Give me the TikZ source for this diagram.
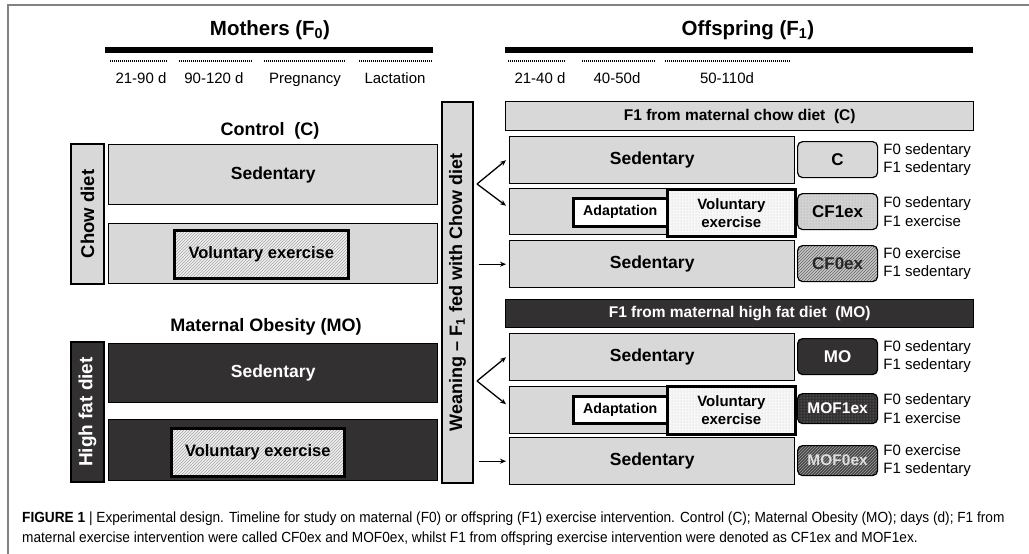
\documentclass[tikz,border=0pt]{standalone}
\usepackage{fontspec}
\setmainfont{Liberation Sans}
\newfontfamily\capfont[FakeStretch=0.93]{Liberation Sans}
\usetikzlibrary{arrows.meta,patterns}
\definecolor{lightg}{RGB}{216,216,216}
\definecolor{darkg}{RGB}{50,48,48}
\definecolor{framec}{RGB}{130,130,130}
\newcommand\setfs[2]{\fontsize{#1}{#2}\selectfont}

\begin{document}
\begin{tikzpicture}[x=1pt,y=-1pt,
  corners/.style n args={4}{anchor=north west, at={(#1,#2)},
    minimum width={#3-#1}, minimum height={#4-#2}},
  vcorners/.style n args={4}{anchor=center, rotate=90,
    at={({(#1+#3)/2},{(#2+#4)/2})},
    minimum width={#4-#2}, minimum height={#3-#1}},
  box/.style={draw, line width=1.4pt, inner sep=0pt, font=\setfs{17.5}{20}\bfseries},
  lbox/.style={box, fill=lightg},
  dbox/.style={box, fill=darkg, text=white},
  hatchbox/.style={draw, line width=2.6pt, inner sep=0pt,
    preaction={fill=gray!12}, pattern=north east lines, pattern color=gray!70,
    font=\setfs{16.5}{19}\bfseries},
  stipbox/.style={draw, line width=2.6pt, inner sep=0pt, align=center,
    preaction={fill=gray!6}, pattern=dots, pattern color=gray!45,
    font=\setfs{15}{18}\bfseries},
  adapt/.style={draw, line width=2.6pt, fill=white, inner sep=0pt,
    font=\setfs{14.2}{17}\bfseries},
  tag/.style={draw, line width=1.2pt, rounded corners=5pt, inner sep=0pt,
    font=\setfs{17}{20}\bfseries},
  side/.style={anchor=west, inner sep=0pt, align=left, xshift=5pt,
    font=\setfs{15}{18.5}},
  period/.style={inner sep=0pt, anchor=base, font=\setfs{15}{18}},
  title/.style={inner sep=0pt, font=\setfs{20.5}{24}\bfseries},
  group/.style={inner sep=0pt, font=\setfs{18}{21}\bfseries},
  rule/.style={line width=6pt},
  dots line/.style={line width=1.2pt, dash pattern=on 1pt off 1pt},
  arr/.style={line width=1.3pt, -{Stealth[length=6pt,width=5pt]}},
  capt/.style={anchor=base west, inner sep=0pt, font=\capfont\setfs{14.7}{17}},
]
\useasboundingbox (0,0) rectangle (1029,554);

% open frame
\draw[framec, line width=2pt] (8,554) -- (8,5) -- (1029,5);

% ---------- timelines ----------
\node[title] (tmoth) at (270,30) {Mothers (F\textsubscript{0})};
\node[title] (toff) at (748,30) {Offspring (F\textsubscript{1})};
\draw[rule] (105,50) -- (433,50);
\draw[rule] (505,50) -- (973,50);
\draw[dots line] (110,61) -- (168,61);
\draw[dots line] (179,61) -- (252,61);
\draw[dots line] (264,61) -- (346,61);
\draw[dots line] (359,61) -- (432,61);
\draw[dots line] (508,61) -- (566,61);
\draw[dots line] (582,61) -- (655,61);
\draw[dots line] (665,61) -- (791,61);
\node[period] (p1) at (141,83.5) {21-90 d};
\node[period] (p2) at (214,83.5) {90-120 d};
\node[period] (p3) at (305,83.5) {Pregnancy};
\node[period] (p4) at (395,83.5) {Lactation};
\node[period] (p5) at (540,83.5) {21-40 d};
\node[period] (p6) at (617,83.5) {40-50d};
\node[period] (p7) at (727,83.5) {50-110d};

% ---------- mothers ----------
\node[group] (gc) at (270,131) {Control\ \ (C)};
\node[lbox, vcorners={71}{144}{104}{284}, font=\setfs{18.5}{21}\bfseries] (chow) {Chow diet};
\node[lbox, corners={108}{144}{437}{204}] (csed) {Sedentary};
\node[lbox, corners={108}{223}{437}{283}] (cex) {};
\node[hatchbox, corners={173}{229}{347}{277}] (cexin) {Voluntary exercise};

\node[group] (gmo) at (266,327) {Maternal Obesity (MO)};
\node[dbox, vcorners={71}{342}{104}{482}, font=\setfs{19}{22}\bfseries] (hfd) {High fat diet};
\node[dbox, corners={108}{343}{437}{402}] (msed) {Sedentary};
\node[dbox, corners={108}{419}{437}{480}] (mex) {};
\node[hatchbox, corners={170}{427}{343}{475}] (mexin) {Voluntary exercise};

% ---------- weaning ----------
\node[lbox, vcorners={442}{102}{473}{483}, font=\setfs{18}{21}\bfseries] (wean)
  {Weaning -- F\textsubscript{1} fed with Chow diet};

% ---------- offspring from chow mothers ----------
\node[lbox, corners={505}{101}{973}{130}, font=\setfs{15.5}{18}\bfseries] (hc)
  {F1 from maternal chow diet\ \ (C)};
\node[lbox, corners={509}{136}{794}{183}] (r1) {Sedentary};
\node[lbox, corners={509}{188}{794}{234}] (r2) {};
\node[adapt, corners={572}{197}{666}{225}] (r2a) {Adaptation};
\node[stipbox, corners={666}{188}{794}{235}] (r2v) {Voluntary\\exercise};
\node[lbox, corners={509}{240}{794}{287}] (r3) {Sedentary};

\node[tag, fill=lightg, corners={797}{141}{877}{177}] (lc) {C};
\node[tag, preaction={fill=gray!35}, pattern=dots, pattern color=gray!75,
  corners={797}{193}{877}{229}] (lcf1) {CF1ex};
\node[tag, preaction={fill=gray!45}, pattern=north east lines, pattern color=black!60,
  text=black!85, corners={797}{245}{877}{281}] (lcf0) {CF0ex};
\node[side, at=(lc.east)] (sc) {F0 sedentary\\F1 sedentary};
\node[side, at=(lcf1.east)] (scf1) {F0 sedentary\\F1 exercise};
\node[side, at=(lcf0.east)] (scf0) {F0 exercise\\F1 sedentary};

% ---------- offspring from obese mothers ----------
\node[dbox, corners={505}{299}{973}{327}, font=\setfs{15.5}{18}\bfseries] (hm)
  {F1 from maternal high fat diet\ \ (MO)};
\node[lbox, corners={509}{333}{794}{380}] (r4) {Sedentary};
\node[lbox, corners={509}{386}{794}{433}] (r5) {};
\node[adapt, corners={572}{395}{666}{422}] (r5a) {Adaptation};
\node[stipbox, corners={666}{385}{794}{433}] (r5v) {Voluntary\\exercise};
\node[lbox, corners={509}{437}{794}{484}] (r6) {Sedentary};

\node[tag, fill=darkg, text=white, corners={797}{338}{877}{374}] (lmo) {MO};
\node[tag, preaction={fill=darkg}, pattern=dots, pattern color=gray!70,
  text=white, font=\setfs{15.5}{18}\bfseries, corners={797}{393}{877}{423}] (lmof1) {MOF1ex};
\node[tag, preaction={fill=black!72}, pattern=north east lines, pattern color=gray!75,
  text=gray!25, font=\setfs{15.5}{18}\bfseries, corners={797}{445}{877}{475}] (lmof0) {MOF0ex};
\node[side, at=(lmo.east)] (smo) {F0 sedentary\\F1 sedentary};
\node[side, at=(lmof1.east)] (smof1) {F0 sedentary\\F1 exercise};
\node[side, at=(lmof0.east)] (smof0) {F0 exercise\\F1 sedentary};

% ---------- arrows from weaning ----------
\coordinate (k1) at (477,184);
\draw[arr] (k1) -- ([xshift=-3pt]r1.west);
\draw[arr] (k1) -- ([xshift=-3pt,yshift=6pt]r2.west);
\coordinate (k2) at ([xshift=5pt]wean.south |- r3.west);
\draw[arr] (k2) -- ([xshift=-3pt]r3.west);
\coordinate (k3) at (477,381);
\draw[arr] (k3) -- ([xshift=-3pt]r4.west);
\draw[arr] (k3) -- ([xshift=-3pt,yshift=6pt]r5.west);
\coordinate (k4) at ([xshift=5pt]wean.south |- r6.west);
\draw[arr] (k4) -- ([xshift=-3pt]r6.west);

% ---------- caption ----------
\node[capt] (cap1) at (22,522)
  {\textbf{FIGURE 1} | Experimental design. Timeline for study on maternal (F0) or offspring (F1) exercise intervention. Control (C); Maternal Obesity (MO); days (d); F1 from};
\node[capt] (cap2) at (22,542)
  {maternal exercise intervention were called CF0ex and MOF0ex, whilst F1 from offspring exercise intervention were denoted as CF1ex and MOF1ex.};
\end{tikzpicture}
\end{document}
